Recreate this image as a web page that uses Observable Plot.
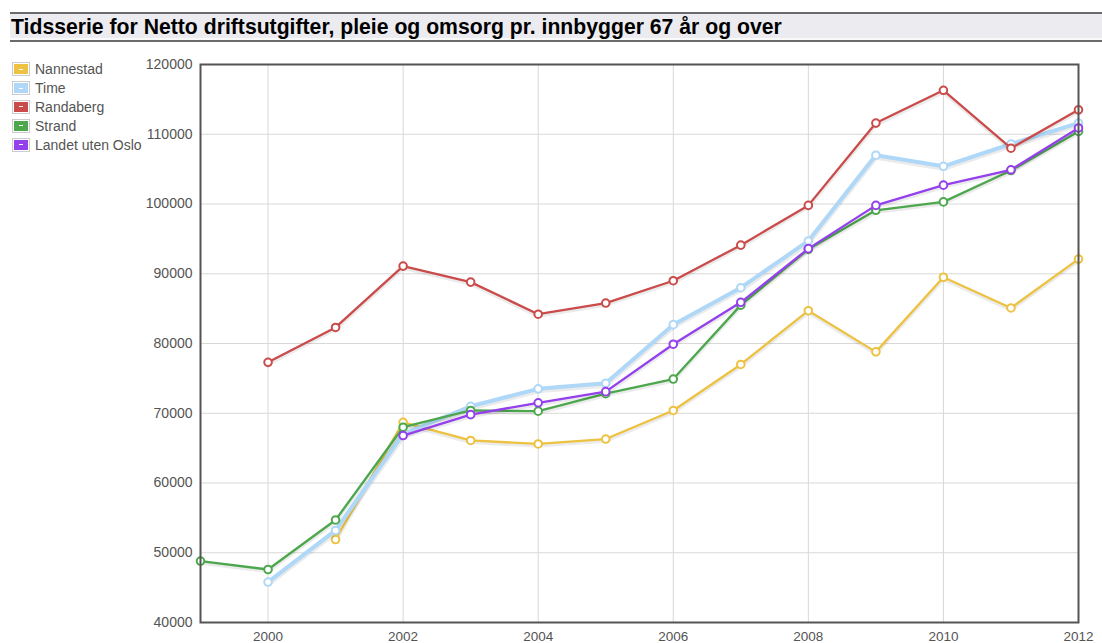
<!DOCTYPE html>
<html>
<head>
<meta charset="utf-8">
<script src="https://cdn.jsdelivr.net/npm/d3@7"></script>
<script src="https://cdn.jsdelivr.net/npm/@observablehq/plot@0.6"></script>
<style>
  html, body { margin: 0; padding: 0; background: #fff; }
  #wrap { position: relative; width: 1102px; height: 643px; overflow: hidden; font-family: "Liberation Sans", Arial, sans-serif; }
  #title { position: absolute; left: 10px; top: 12px; right: 0; height: 26px; background: #ececf0;
           border-top: 2px solid #6a6a6a; border-bottom: 2px solid #6a6a6a; box-shadow: inset 0 -2px 0 #fafafa; }
  #title span { position: absolute; left: 1px; top: 1px; font-weight: bold; font-size: 21.2px; color: #000; white-space: nowrap; }
  #legend { position: absolute; left: 12px; top: 60px; font-size: 14px; color: #545454; }
  .row { height: 18.8px; display: flex; align-items: center; }
  .sw { width: 14px; height: 10px; border: 1px solid #ccc; padding: 1px; margin-right: 5px; position: relative; }
  .sw div { width: 100%; height: 100%; position: relative; }
  .sw div i { position: absolute; left: 5px; top: 4.5px; width: 4px; height: 1px; background: #fff; }
  #chart { position: absolute; left: 0; top: 50px; }
</style>
</head>
<body>
<div id="wrap">
  <div id="title"><span>Tidsserie for Netto driftsutgifter, pleie og omsorg pr. innbygger 67 år og over</span></div>
  <div id="legend"></div>
  <div id="chart"></div>
</div>
<script>
const years      = [1999, 2000, 2001, 2002, 2003, 2004, 2005, 2006, 2007, 2008, 2009, 2010, 2011, 2012];
const nannestad  = [null, null, 51900, 68700, 66100, 65600, 66300, 70400, 77000, 84700, 78800, 89500, 85100, 92100];
const time       = [null, 45800, 53200, 67000, 71000, 73500, 74300, 82700, 88000, 94700, 107000, 105400, 108600, 111600];
const randaberg  = [null, 77300, 82300, 91100, 88800, 84200, 85800, 89000, 94100, 99800, 111600, 116300, 108000, 113500];
const strand     = [48800, 47600, 54700, 68000, 70400, 70300, 72800, 74900, 85500, 93500, 99100, 100300, 104800, 110400];
const landet     = [null, null, null, 66800, 69800, 71500, 73100, 79900, 85900, 93600, 99800, 102700, 104900, 110900];

const seriesNames  = ["Nannestad", "Time", "Randaberg", "Strand", "Landet uten Oslo"];
const seriesValues = [nannestad, time, randaberg, strand, landet];
const seriesColors = ["#edc240", "#afd8f8", "#cb4b4b", "#4da74d", "#9440ed"];
const lineWidths   = [2.3, 4, 2.3, 2.3, 2.3];

const xTicks = [2000, 2002, 2004, 2006, 2008, 2010, 2012];
const yTicks = [40000, 50000, 60000, 70000, 80000, 90000, 100000, 110000, 120000];

// legend
const legend = document.getElementById("legend");
seriesNames.forEach((name, i) => {
  const row = document.createElement("div");
  row.className = "row";
  row.innerHTML = `<div class="sw"><div style="background:${seriesColors[i]}"><i></i></div></div><span>${name}</span>`;
  legend.appendChild(row);
});

const marks = [
  Plot.gridX(xTicks, {stroke: "#d8d8d8", strokeOpacity: 1}),
  Plot.gridY(yTicks, {stroke: "#d8d8d8", strokeOpacity: 1}),
];

seriesNames.forEach((name, i) => {
  const data = years.map((y, j) => ({year: y, value: seriesValues[i][j]})).filter(d => d.value != null);
  marks.push(Plot.line(data, {x: "year", y: "value", stroke: "rgba(0,0,0,0.08)", strokeWidth: lineWidths[i] + 2, dy: 1.5}));
  marks.push(Plot.line(data, {x: "year", y: "value", stroke: seriesColors[i], strokeWidth: lineWidths[i]}));
  marks.push(Plot.dot(data, {x: "year", y: "value", r: 3.8, fill: "#fff", stroke: seriesColors[i], strokeWidth: 2}));
});

marks.push(Plot.frame({stroke: "#545454", strokeWidth: 2}));
marks.push(Plot.axisX(xTicks, {tickSize: 0, tickPadding: 9, tickFormat: d => String(d), fill: "#545454", fontSize: 13.5, label: null}));
marks.push(Plot.axisY(yTicks, {tickSize: 0, tickPadding: 8, tickFormat: d => String(d), fill: "#545454", fontSize: 14, label: null}));

const chart = Plot.plot({
  width: 1102,
  height: 593,
  marginLeft: 200,
  marginRight: 24,
  marginTop: 14,
  marginBottom: 21,
  x: {domain: [1999, 2012], label: null},
  y: {domain: [40000, 120000], label: null},
  style: {fontFamily: "'Liberation Sans', Arial, sans-serif", fontSize: "13.5px", color: "#545454", overflow: "visible", background: "transparent"},
  marks
});
document.getElementById("chart").appendChild(chart);
</script>
</body>
</html>
